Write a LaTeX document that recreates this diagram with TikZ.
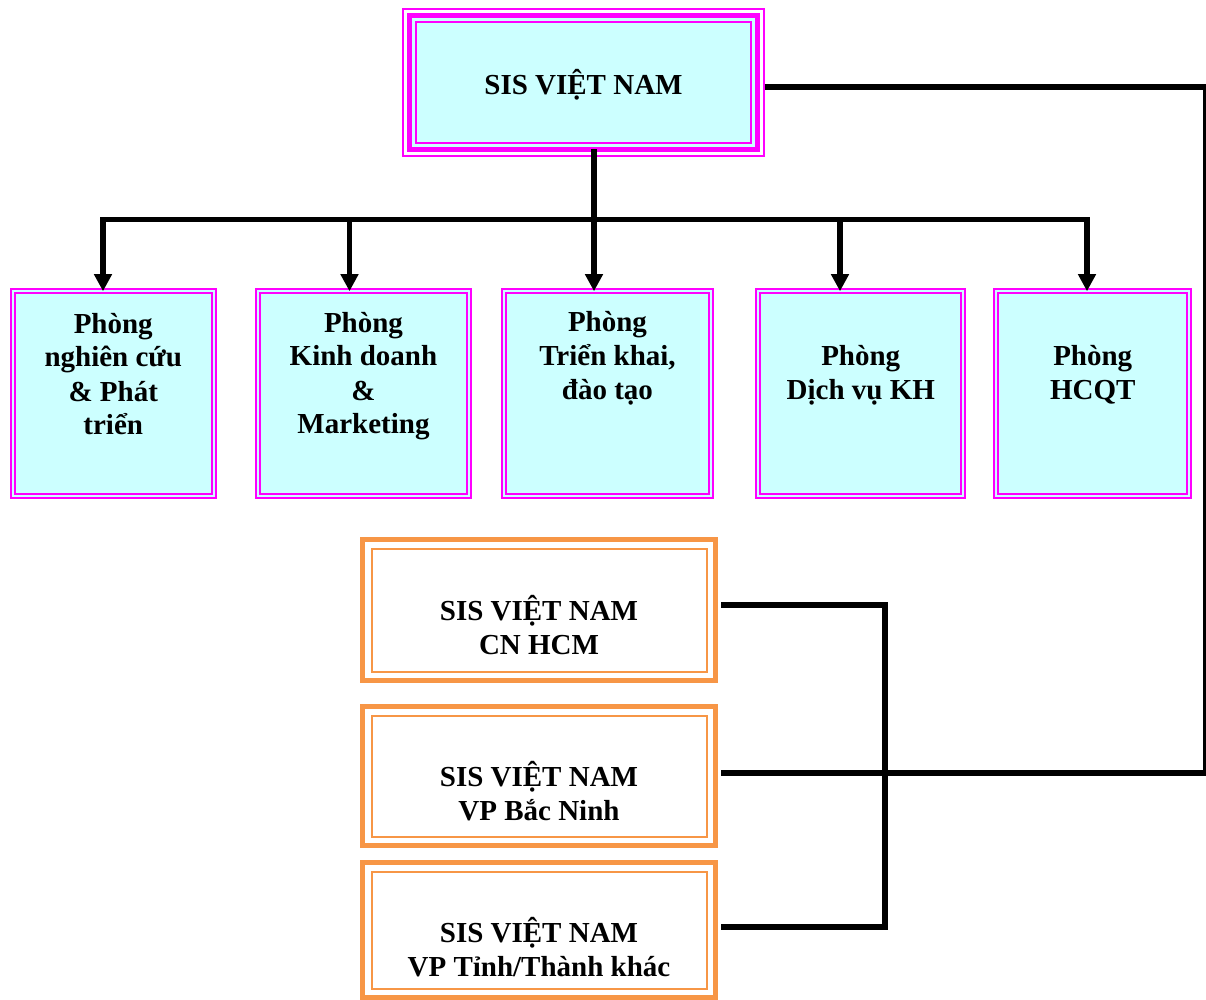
\documentclass[tikz,border=0pt]{standalone}
\usepackage{fontspec}
\setmainfont{Liberation Serif}
\usetikzlibrary{arrows.meta,backgrounds}
\definecolor{pk}{HTML}{FF00FF}
\definecolor{cy}{HTML}{CCFFFF}
\definecolor{og}{HTML}{F79646}
\begin{document}
\begin{tikzpicture}[x=0.5pt,y=-0.5pt,
  txt/.style={font=\fontsize{14.5pt}{17pt}\selectfont\bfseries, align=center, anchor=base, inner sep=0pt},
  pbox/.style={draw=pk, double=cy, double distance=1.2pt, line width=1pt, fill=cy, outer sep=0pt, inner sep=0pt, minimum height=102.5pt},
  obox/.style={draw=og, line width=2.6pt, fill=white, outer sep=0pt, inner sep=0pt, minimum width=176.5pt},
  oinner/.style={draw=og, line width=1pt},
  conn/.style={line width=2.6pt, draw=black},
  arr/.style={conn, -{Triangle[width=8.5pt,length=8.5pt]}}
]
\useasboundingbox (0,0) rectangle (1206,1000);
\clip (0,0) rectangle (1206,1000);

% top box
\node[draw=pk, line width=0.9pt, fill=cy, minimum width=167.5pt, minimum height=60.5pt, inner sep=0pt, outer sep=0pt] (top) at (583.5,82.5) {};
\begin{pgfonlayer}{background}
\draw[pk, line width=2.5pt, fill=cy] ([shift={(-6.5,-6.5)}]top.north west) rectangle ([shift={(6.5,6.5)}]top.south east);
\draw[pk, line width=1pt] ([shift={(-13.3,-13.3)}]top.north west) rectangle ([shift={(13.3,13.3)}]top.south east);
\end{pgfonlayer}
\node[txt] (toptxt) at (583.5,95) {SIS VIỆT NAM};

% department boxes
\node[pbox, minimum width=100.5pt] (b1) at (113.25,393.75) {};
\node[pbox, minimum width=105.25pt] (b2) at (363.5,393.75) {};
\node[pbox, minimum width=103.25pt] (b3) at (607.5,393.75) {};
\node[pbox, minimum width=102.5pt] (b4) at (860.75,393.75) {};
\node[pbox, minimum width=96.5pt] (b5) at (1092.75,393.75) {};

\node[txt] (t1) at (113.25,435) {Phòng\\nghiên cứu\\\& Phát\\triển};
\node[txt] (t2) at (363.5,434) {Phòng\\Kinh doanh\\\&\\Marketing};
\node[txt] (t3) at (607.5,400) {Phòng\\Triển khai,\\đào tạo};
\node[txt] (t4) at (860.75,400) {Phòng\\Dịch vụ KH};
\node[txt] (t5) at (1092.75,400) {Phòng\\HCQT};

% branch boxes
\node[obox, minimum height=70.5pt] (oA) at (539,610) {};
\node[obox, minimum height=69.5pt] (oB) at (539,776) {};
\node[obox, minimum height=67.5pt] (oC) at (539,930) {};
\foreach \n in {oA,oB,oC}{
  \draw[oinner] ([shift={(9,9)}]\n.north west) rectangle ([shift={(-9,-9)}]\n.south east);
}
\node[txt] (tA) at (539,654) {SIS VIỆT NAM\\CN HCM};
\node[txt] (tB) at (539,820) {SIS VIỆT NAM\\VP Bắc Ninh};
\node[txt] (tC) at (539,976) {SIS VIỆT NAM\\VP Tỉnh/Thành khác};

% connectors
\coordinate (bl) at (103,219.5);
\coordinate (br) at (1087,219.5);
\coordinate (x2) at (349.5,219.5);
\coordinate (x4) at (840,219.5);
\coordinate (tdown) at ([shift={(10.5,6.5)}]top.south);
\draw[arr] (br) -- (bl) -- (bl |- b1.north);
\draw[arr] (bl) -- (br) -- (br |- b5.north);
\draw[arr] (x2) -- (x2 |- b2.north);
\draw[arr] (x4) -- (x4 |- b4.north);
\draw[arr] (tdown) -- (tdown |- b3.north);

\coordinate (teast) at ([shift={(13.5,4.5)}]top.east);
\coordinate (rc) at (1205.5,87);
\coordinate (ea) at ([shift={(5.5,-5)}]oA.east);
\coordinate (eb) at ([shift={(5.5,-3)}]oB.east);
\coordinate (ec) at ([shift={(5.5,-3)}]oC.east);
\coordinate (mc) at (885,0);
\draw[conn] (teast) -- (rc) |- (eb);
\draw[conn] (ea) -| (mc |- ec) -- (ec);
\end{tikzpicture}
\end{document}
